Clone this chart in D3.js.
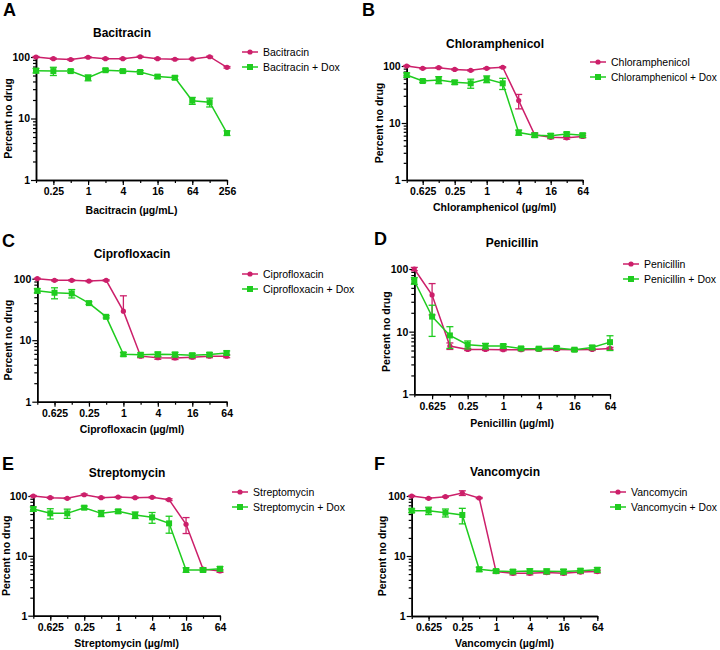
<!DOCTYPE html>
<html><head><meta charset="utf-8">
<script src="https://cdn.jsdelivr.net/npm/d3@7"></script>
<style>body{margin:0;background:#fff} text{font-family:"Liberation Sans",Arial,sans-serif;fill:#000}</style>
</head><body><svg id="c" width="720" height="650"></svg>
<script>
// ---- data ----
const concBac = [0.125,0.25,0.5,1,2,4,8,16,32,64,128,256];
const concStd = [0.03125,0.0625,0.125,0.25,0.5,1,2,4,8,16,32,64];
const ticksBac = [0.25,1,4,16,64,256];
const labelsBac = ["0.25","1","4","16","64","256"];
const ticksStd = [0.0625,0.25,1,4,16,64];
const labelsStd = ["0.625","0.25","1","4","16","64"];
const yTicks = [1,10,100];
const yTickLabels = ["1","10","100"];

const bacY     = [100,94,91,99,94,94,101,94,92,93,101,68];
const bacErr   = [2,2,2,2,2,2,2,2,2,2,2,2];
const bacDoxY  = [60,59,59,46,61,59,57,48,46,19.5,18.4,5.8];
const bacDoxErr= [5,9,3,5,3,3,3,3,3,2.5,3,0.5];

const chlY     = [100,91,93.5,87,84,91,95,24.7,6.2,5.6,5.5,5.8];
const chlErr   = [2,2,2,2,2,2,2,7,0.5,0.3,0.3,0.3];
const chlDoxY  = [69.5,54.5,57,51.7,49.7,59,49.7,6.8,6.1,6.0,6.4,6.1];
const chlDoxErr= [6,3,8,4,9,8,11,0.7,0.5,0.5,0.5,0.5];

const ciprY      = [100,94,94,91.6,94,29.7,5.5,5.2,5.15,5.3,5.5,5.5];
const ciprErrUp  = [2,2,2,2,2,23,0.3,0.3,0.3,0.3,0.3,0.3];
const ciprErrLo  = [2,2,2,2,2,0,0.3,0.3,0.3,0.3,0.3,0.3];
const ciprDoxY   = [63.7,59.1,57.6,40.1,24,5.9,5.8,5.9,5.85,5.7,5.85,6.2];
const ciprDoxErr = [5,12,9,2,1,0.4,0.4,0.5,0.5,0.4,0.4,0.5];

const penY     = [100,38.5,5.9,5.2,5.2,5.15,5.15,5.2,5.2,5.15,5.2,5.4];
const penErr   = [6,20,0.7,0.2,0.2,0.2,0.2,0.2,0.2,0.2,0.2,0.2];
const penDoxY  = [65,17.4,8.7,6.2,5.9,5.9,5.4,5.35,5.5,5.15,5.6,6.8];
const penDoxErr= [8,9,3.3,0.9,0.6,0.4,0.3,0.3,0.3,0.3,0.4,1.8];

const strY     = [100,93.8,91.4,105,93.8,96,93.8,95,86.8,33.6,6.0,5.6];
const strErr   = [2,2,2,3,2,2,2,2,3,10,0.3,0.3];
const strDoxY  = [60.6,51.3,51.3,63.8,51.3,55.4,48.1,44,34.9,5.8,5.8,6.1];
const strDoxErr= [5,10,9,4,6,4,6,9,11,0.5,0.4,0.5];

const vanY     = [100,91.4,97.5,112,92.6,5.5,5.15,5.15,5.3,5.15,5.4,5.5];
const vanErr   = [2,2,2,10,2,0.3,0.3,0.3,0.3,0.3,0.3,0.3];
const vanDoxY  = [57,57,52.7,48.3,6.0,5.6,5.5,5.6,5.56,5.5,5.7,5.9];
const vanDoxErr= [4,8,8,14,0.5,0.4,0.4,0.5,0.5,0.5,0.4,0.5];

const names = ["Bacitracin","Chloramphenicol","Ciprofloxacin","Penicillin","Streptomycin","Vancomycin"];
const xTitles = ["Bacitracin (\u00b5g/mL)","Chloramphenicol (\u00b5g/ml)","Ciprofloxacin (\u00b5g/ml)","Penicillin (\u00b5g/ml)","Streptomycin (\u00b5g/ml)","Vancomycin (\u00b5g/ml)"];
const letters = ["A","B","C","D","E","F"];

const MAG = "#cc1f6a", GRN = "#1fcc1f";

// ---- layout (positions) ----
const panels = [
 {conc:concBac,ticks:ticksBac,labels:labelsBac,a:bacY,aUp:bacErr,aLo:bacErr,b:bacDoxY,bErr:bacDoxErr,
  x0:36,x1:227,yTop:57,yBot:180,tx:122,ty:37,lx:3,ly:16,gx:242,gy:52,xty:214,ytx:8},
 {conc:concStd,ticks:ticksStd,labels:labelsStd,a:chlY,aUp:chlErr,aLo:chlErr,b:chlDoxY,bErr:chlDoxErr,
  x0:406.7,x1:582.7,yTop:66,yBot:180,tx:495,ty:48,lx:362,ly:16,gx:590,gy:62,xty:211,ytx:379},
 {conc:concStd,ticks:ticksStd,labels:labelsStd,a:ciprY,aUp:ciprErrUp,aLo:ciprErrLo,b:ciprDoxY,bErr:ciprDoxErr,
  x0:37.3,x1:226.7,yTop:278.7,yBot:401.7,tx:132,ty:258,lx:2,ly:247,gx:242,gy:274,xty:433,ytx:8},
 {conc:concStd,ticks:ticksStd,labels:labelsStd,a:penY,aUp:penErr,aLo:penErr,b:penDoxY,bErr:penDoxErr,
  x0:414.3,x1:610,yTop:269,yBot:394.3,tx:512,ty:247,lx:374,ly:245,gx:623,gy:264,xty:427,ytx:386},
 {conc:concStd,ticks:ticksStd,labels:labelsStd,a:strY,aUp:strErr,aLo:strErr,b:strDoxY,bErr:strDoxErr,
  x0:33.3,x1:220,yTop:496,yBot:615.7,tx:127,ty:477,lx:2,ly:470,gx:232,gy:492,xty:647,ytx:6},
 {conc:concStd,ticks:ticksStd,labels:labelsStd,a:vanY,aUp:vanErr,aLo:vanErr,b:vanDoxY,bErr:vanDoxErr,
  x0:411.7,x1:597.3,yTop:496,yBot:616,tx:505,ty:476,lx:374,ly:470,gx:610,gy:492,xty:647,ytx:382}
];

const svg = d3.select("#c");
const minorY = [2,3,4,5,6,7,8,9,20,30,40,50,60,70,80,90];

panels.forEach((p,i)=>{
  const g = svg.append("g");
  const x = d3.scaleLog().base(2).domain([p.conc[0], p.conc[p.conc.length-1]]).range([p.x0,p.x1]);
  const y = d3.scaleLog().domain([1,100]).range([p.yBot,p.yTop]);

  g.append("text").attr("x",p.lx).attr("y",p.ly).attr("font-size",18).attr("font-weight","bold").text(letters[i]);
  g.append("text").attr("x",p.tx).attr("y",p.ty).attr("font-size",12).attr("font-weight","bold").attr("text-anchor","middle").text(names[i]);

  const xMin = g.append("g").attr("transform",`translate(0,${p.yBot})`)
    .call(d3.axisBottom(x).tickValues(p.conc).tickSize(3).tickSizeOuter(0).tickFormat(""));
  const xMaj = g.append("g").attr("transform",`translate(0,${p.yBot})`)
    .call(d3.axisBottom(x).tickValues(p.ticks).tickSize(5).tickSizeOuter(0).tickPadding(3)
      .tickFormat((d,k)=>p.labels[k]));
  const yMin = g.append("g").attr("transform",`translate(${p.x0},0)`)
    .call(d3.axisLeft(y).tickValues(minorY).tickSize(3).tickSizeOuter(0).tickFormat(""));
  const yMaj = g.append("g").attr("transform",`translate(${p.x0},0)`)
    .call(d3.axisLeft(y).tickValues(yTicks).tickSize(5).tickSizeOuter(0).tickPadding(1)
      .tickFormat((d,k)=>yTickLabels[k]));
  [xMin,xMaj,yMin,yMaj].forEach(a=>{
    a.selectAll("path").attr("stroke","#000").attr("stroke-width",1.5);
    a.selectAll("line").attr("stroke","#000").attr("stroke-width",1.2);
    a.selectAll("text").attr("font-size",10.5).attr("font-weight","bold").attr("font-family",'"Liberation Sans",Arial,sans-serif');
  });

  g.append("text").attr("x",(p.x0+p.x1)/2).attr("y",p.xty).attr("text-anchor","middle")
    .attr("font-size",10.5).attr("font-weight","bold").text(xTitles[i]);
  g.append("text").attr("transform",`translate(${p.ytx},${(p.yTop+p.yBot)/2}) rotate(-90)`)
    .attr("text-anchor","middle").attr("dy","0.35em").attr("font-size",10.5).attr("font-weight","bold").text("Percent no drug");

  const line = d3.line().x((d,k)=>x(p.conc[k])).y(d=>y(d));

  function series(vals, up, lo, color, shape){
    const s = g.append("g");
    vals.forEach((v,k)=>{
      const cx = x(p.conc[k]);
      const yh = y(v+up[k]), yl = y(Math.max(v-lo[k],0.01));
      const yv = y(v);
      if(up[k]>0){
        s.append("line").attr("x1",cx).attr("x2",cx).attr("y1",yv).attr("y2",yh).attr("stroke",color).attr("stroke-width",1.3);
        s.append("line").attr("x1",cx-3.5).attr("x2",cx+3.5).attr("y1",yh).attr("y2",yh).attr("stroke",color).attr("stroke-width",1.3);
      }
      if(lo[k]>0){
        s.append("line").attr("x1",cx).attr("x2",cx).attr("y1",yv).attr("y2",yl).attr("stroke",color).attr("stroke-width",1.3);
        s.append("line").attr("x1",cx-3.5).attr("x2",cx+3.5).attr("y1",yl).attr("y2",yl).attr("stroke",color).attr("stroke-width",1.3);
      }
    });
    s.append("path").attr("d",line(vals)).attr("fill","none").attr("stroke",color).attr("stroke-width",1.5);
    vals.forEach((v,k)=>{
      const cx = x(p.conc[k]), cy = y(v);
      if(shape==="circle") s.append("circle").attr("cx",cx).attr("cy",cy).attr("r",2.6).attr("fill",color);
      else s.append("rect").attr("x",cx-3).attr("y",cy-3).attr("width",6).attr("height",6).attr("fill",color);
    });
  }
  series(p.a, p.aUp, p.aLo, MAG, "circle");
  series(p.b, p.bErr, p.bErr, GRN, "square");

  const leg = [[names[i],MAG,"circle"],[names[i]+" + Dox",GRN,"square"]];
  leg.forEach((L,k)=>{
    const ly = p.gy + k*15;
    g.append("line").attr("x1",p.gx).attr("x2",p.gx+16).attr("y1",ly).attr("y2",ly).attr("stroke",L[1]).attr("stroke-width",1.5);
    if(L[2]==="circle") g.append("circle").attr("cx",p.gx+8).attr("cy",ly).attr("r",2.6).attr("fill",L[1]);
    else g.append("rect").attr("x",p.gx+5).attr("y",ly-3).attr("width",6).attr("height",6).attr("fill",L[1]);
    const t = g.append("text").attr("x",p.gx+21).attr("y",ly).attr("dy","0.35em").attr("font-size",10.5).text(L[0]);
    const w = t.node().getComputedTextLength();
    const maxW = 717 - (p.gx+21);
    if (w > maxW) t.attr("font-size", (10.5*maxW/w).toFixed(2));
  });
});
</script></body></html>
